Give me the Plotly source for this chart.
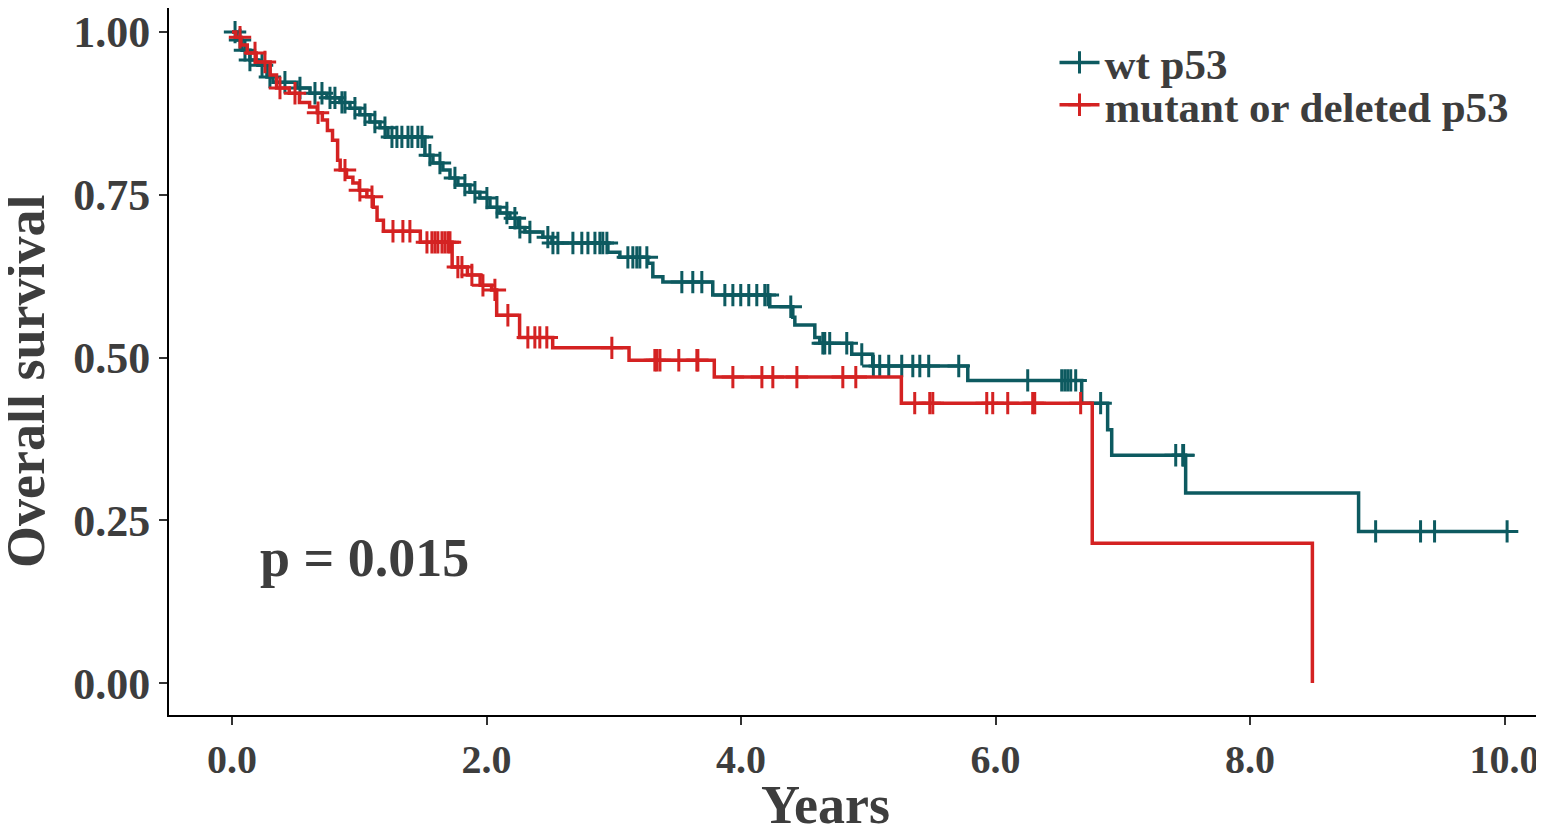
import numpy as np
import plotly.graph_objects as go

# KM step points (time in years, survival after the step)
wt_time = [0.0, 0.039, 0.079, 0.141, 0.204, 0.275, 0.322, 0.511, 0.613, 0.746, 0.848, 0.927, 1.005,
           1.084, 1.163, 1.225, 1.516, 1.579, 1.657, 1.713, 1.775, 1.870, 1.948, 2.027, 2.105, 2.184,
           2.247, 2.302, 2.443, 2.514, 2.954, 3.048, 3.268, 3.307, 3.386, 3.778, 4.226, 4.407, 4.423,
           4.580, 4.619, 4.870, 5.035, 5.782, 6.677, 6.881, 6.913, 7.494, 8.853, 10.02]
wt_surv = [1.0, 0.988, 0.972, 0.957, 0.949, 0.931, 0.923, 0.914, 0.906, 0.899, 0.892, 0.883, 0.873,
           0.862, 0.853, 0.839, 0.811, 0.799, 0.788, 0.776, 0.765, 0.754, 0.745, 0.731, 0.722, 0.714,
           0.700, 0.693, 0.685, 0.676, 0.662, 0.654, 0.645, 0.624, 0.616, 0.596, 0.578, 0.562, 0.550,
           0.531, 0.522, 0.505, 0.487, 0.465, 0.430, 0.389, 0.350, 0.292, 0.233, 0.233]
wt_censor = [0.024, 0.063, 0.102, 0.141, 0.236, 0.298, 0.416, 0.534, 0.652, 0.707, 0.770, 0.809,
             0.864, 0.888, 0.966, 1.045, 1.123, 1.202, 1.257, 1.296, 1.335, 1.383, 1.414, 1.461,
             1.493, 1.555, 1.634, 1.752, 1.830, 1.909, 2.003, 2.082, 2.160, 2.223, 2.262, 2.341,
             2.482, 2.522, 2.561, 2.679, 2.749, 2.797, 2.852, 2.891, 2.914, 2.946, 3.111, 3.150,
             3.181, 3.205, 3.260, 3.535, 3.621, 3.692, 3.873, 3.936, 3.998, 4.061, 4.124, 4.187,
             4.211, 4.391, 4.643, 4.658, 4.697, 4.831, 4.949, 5.04, 5.090, 5.161, 5.263, 5.350,
             5.405, 5.475, 5.711, 6.253, 6.520, 6.544, 6.567, 6.591, 6.630, 6.826, 7.416, 7.471,
             7.478, 8.987, 9.340, 9.450, 10.02]

mut_time = [0.0, 0.03, 0.07, 0.12, 0.19, 0.30, 0.35, 0.45, 0.53, 0.61, 0.67, 0.71, 0.75, 0.79, 0.83,
            0.85, 0.90, 0.95, 1.00, 1.06, 1.11, 1.14, 1.19, 1.48, 1.73, 1.85, 1.95, 2.04, 2.08, 2.26,
            2.52, 3.12, 3.79, 5.26, 6.76, 8.49]
mut_surv = [1.0, 0.992, 0.980, 0.968, 0.954, 0.934, 0.914, 0.906, 0.892, 0.885, 0.876, 0.865, 0.849,
            0.834, 0.803, 0.788, 0.777, 0.768, 0.757, 0.747, 0.731, 0.711, 0.694, 0.677, 0.639, 0.627,
            0.611, 0.604, 0.565, 0.531, 0.515, 0.496, 0.470, 0.430, 0.215, 0.0]
mut_censor = [0.063, 0.181, 0.259, 0.377, 0.495, 0.676, 0.888, 1.005, 1.100, 1.265, 1.343, 1.398,
              1.532, 1.571, 1.595, 1.618, 1.650, 1.673, 1.697, 1.713, 1.775, 1.807, 1.885, 1.972,
              2.066, 2.168, 2.325, 2.380, 2.419, 2.474, 2.985, 3.323, 3.339, 3.363, 3.511, 3.653,
              3.661, 3.936, 4.164, 4.250, 4.439, 4.800, 4.902, 5.365, 5.483, 5.507, 5.931, 5.978,
              6.096, 6.292, 6.308, 6.669]

x_ticks = [0, 2, 4, 6, 8, 10]
y_ticks = [0, 0.25, 0.5, 0.75, 1.0]
p_text = 'p = 0.015'

WT_COL = '#0d5a60'
MUT_COL = '#d42222'
TXT_COL = '#3d3d3d'
FONT = 'Liberation Serif'


def surv_at(times, survs, t):
    # value of the step function at t (right-continuous)
    idx = np.searchsorted(np.array(times), np.array(t), side='right') - 1
    return np.array(survs)[idx]


fig = go.Figure()
groups = [('wt p53', wt_time, wt_surv, wt_censor, WT_COL, 'legend'),
          ('mutant or deleted p53', mut_time, mut_surv, mut_censor, MUT_COL, 'legend2')]
for name, t, s, c, col, leg in groups:
    fig.add_trace(go.Scatter(x=t, y=s, mode='lines', line=dict(color=col, width=3.5, shape='hv'),
                             showlegend=False, hoverinfo='skip'))
    fig.add_trace(go.Scatter(x=c, y=surv_at(t, s, c), mode='markers', showlegend=False,
                             marker=dict(symbol='cross-thin', size=16, line=dict(color=col, width=3))))
    #dummy trace so the legend shows line + cross, one legend per row to control spacing
    fig.add_trace(go.Scatter(x=[None], y=[None], mode='lines+markers', name=name, legend=leg,
                             line=dict(color=col, width=3.5),
                             marker=dict(symbol='cross-thin', size=16, line=dict(color=col, width=3))))

fig.add_annotation(x=1.04, y=0.192, text=p_text, showarrow=False, xref='x', yref='y',
                   xanchor='center', yanchor='middle',
                   font=dict(family=FONT, size=54, color=TXT_COL, weight='bold'))
fig.add_annotation(x=4.66, y=-0.128, text='Years', showarrow=False, xref='x', yref='paper',
                   xanchor='center', yanchor='middle',
                   font=dict(family=FONT, size=54, color=TXT_COL, weight='bold'))
fig.add_annotation(x=-0.104, y=0.471, text='Overall survival', showarrow=False, textangle=-90,
                   xref='paper', yref='paper', xanchor='center', yanchor='middle',
                   font=dict(family=FONT, size=54, color=TXT_COL, weight='bold'))

fig.update_xaxes(range=[-0.495, 10.31], tickvals=x_ticks, ticktext=['%.1f' % v for v in x_ticks],
                 showline=True, linecolor='black', linewidth=2, ticks='outside', ticklen=8,
                 tickwidth=2, tickcolor='#333333', showgrid=False, zeroline=False, automargin=False,
                 tickfont=dict(family=FONT, size=40, color=TXT_COL, weight='bold'))
fig.update_yaxes(range=[-0.049, 1.037], tickvals=y_ticks, ticktext=['%.2f' % v for v in y_ticks],
                 showline=True, linecolor='black', linewidth=2, ticks='outside', ticklen=8,
                 tickwidth=2, tickcolor='#333333', showgrid=False, zeroline=False, automargin=False,
                 tickfont=dict(family=FONT, size=44, color=TXT_COL, weight='bold'))

# the page body adds an 8px offset, so the figure is 16px smaller than the window
leg_font = dict(family=FONT, size=43, color=TXT_COL, weight='bold')
fig.update_layout(width=1536, height=818, plot_bgcolor='white', paper_bgcolor='white',
                  margin=dict(l=161, r=0, t=0, b=111, autoexpand=False),
                  legend=dict(x=0.644, y=0.923, xanchor='left', yanchor='middle',
                              bgcolor='rgba(0,0,0,0)', font=leg_font, itemwidth=40),
                  legend2=dict(x=0.644, y=0.863, xanchor='left', yanchor='middle',
                               bgcolor='rgba(0,0,0,0)', font=leg_font, itemwidth=40))

fig.write_html("out.html")
